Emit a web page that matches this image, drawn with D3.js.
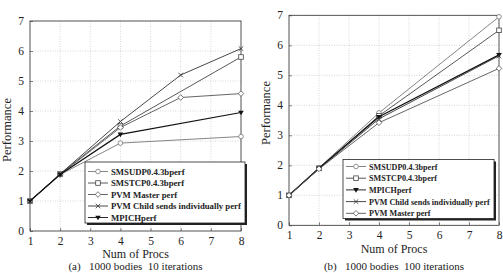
<!DOCTYPE html>
<html>
<head>
<meta charset="utf-8">
<script src="https://cdn.jsdelivr.net/npm/d3@7"></script>
<style>
  body { margin: 0; background: #fff; }
</style>
</head>
<body>
<div id="chart"></div>
<script>
const W = 503, H = 273;
const FONT = "Liberation Serif";

// data
const procsFour = [1, 2, 4, 8];
const procsFive = [1, 2, 4, 6, 8];
const xTicks = [1, 2, 3, 4, 5, 6, 7, 8];
const yTicks = [0, 1, 2, 3, 4, 5, 6, 7];

const namesA = ["SMSUDP0.4.3bperf", "SMSTCP0.4.3bperf", "PVM Master perf", "PVM Child sends individually perf", "MPICHperf"];
const smsUdpA = [1, 1.88, 2.93, 3.15];
const smsTcpA = [1, 1.9, 3.5, 5.8];
const pvmMasterA = [1, 1.88, 3.45, 4.45, 4.58];
const pvmChildA = [1, 1.9, 3.65, 5.2, 6.08];
const mpichA = [1, 1.88, 3.22, 3.95];

const namesB = ["SMSUDP0.4.3bperf", "SMSTCP0.4.3bperf", "MPICHperf", "PVM Child sends individually perf", "PVM Master perf"];
const smsUdpB = [1, 1.92, 3.75, 6.95];
const smsTcpB = [1, 1.9, 3.65, 6.5];
const mpichB = [1, 1.9, 3.62, 5.68];
const pvmChildB = [1, 1.88, 3.55, 5.65];
const pvmMasterB = [1, 1.88, 3.42, 5.23];

const styles = {
  "SMSUDP0.4.3bperf": { color: "#777", marker: "circle" },
  "SMSTCP0.4.3bperf": { color: "#444", marker: "square" },
  "PVM Master perf": { color: "#555", marker: "diamond" },
  "PVM Child sends individually perf": { color: "#333", marker: "cross" },
  "MPICHperf": { color: "#111", marker: "tri" }
};

const panels = [
  {
    left: 30, right: 241, top: 21, bottom: 231,
    series: [
      { name: namesA[0], x: procsFour, y: smsUdpA },
      { name: namesA[1], x: procsFour, y: smsTcpA },
      { name: namesA[2], x: procsFive, y: pvmMasterA },
      { name: namesA[3], x: procsFive, y: pvmChildA },
      { name: namesA[4], x: procsFour, y: mpichA }
    ],
    legend: { x: 85, y: 162, w: 160, h: 61, rowStart: 171.5, rowGap: 11.5, textW: 130 },
    ylabelX: 11, ylabelY: 130,
    xlabelY: 257.5, caption: "(a)   1000 bodies  10 iterations", captionY: 270
  },
  {
    left: 289, right: 499, top: 15.3, bottom: 225.3,
    series: [
      { name: namesB[0], x: procsFour, y: smsUdpB },
      { name: namesB[1], x: procsFour, y: smsTcpB },
      { name: namesB[2], x: procsFour, y: mpichB },
      { name: namesB[3], x: procsFour, y: pvmChildB },
      { name: namesB[4], x: procsFour, y: pvmMasterB }
    ],
    legend: { x: 343, y: 159.5, w: 151, h: 59, rowStart: 166.5, rowGap: 11.7, textW: 121 },
    ylabelX: 270, ylabelY: 113,
    xlabelY: 253, caption: "(b)   1000 bodies  100 iterations", captionY: 270
  }
];

const svg = d3.select("#chart").append("svg")
  .attr("width", W)
  .attr("height", H);

function drawMarker(g, type, cx, cy, color) {
  const r = 2.3;
  if (type === "circle") {
    g.append("circle").attr("cx", cx).attr("cy", cy).attr("r", r)
      .attr("fill", "#fff").attr("stroke", color).attr("stroke-width", 0.8);
  } else if (type === "square") {
    g.append("rect").attr("x", cx - r).attr("y", cy - r).attr("width", 2 * r).attr("height", 2 * r)
      .attr("fill", "#fff").attr("stroke", color).attr("stroke-width", 0.8);
  } else if (type === "diamond") {
    g.append("path").attr("d", `M${cx},${cy - r - 0.5}L${cx + r + 0.5},${cy}L${cx},${cy + r + 0.5}L${cx - r - 0.5},${cy}Z`)
      .attr("fill", "#fff").attr("stroke", color).attr("stroke-width", 0.8);
  } else if (type === "cross") {
    g.append("path").attr("d", `M${cx - r},${cy - r}L${cx + r},${cy + r}M${cx - r},${cy + r}L${cx + r},${cy - r}`)
      .attr("stroke", color).attr("stroke-width", 0.8);
  } else {
    g.append("path").attr("d", `M${cx - r - 0.5},${cy - r + 0.5}L${cx + r + 0.5},${cy - r + 0.5}L${cx},${cy + r + 0.5}Z`)
      .attr("fill", color);
  }
}

panels.forEach(p => {
  const x = d3.scaleLinear().domain([1, 8]).range([p.left, p.right]);
  const y = d3.scaleLinear().domain([0, 7]).range([p.bottom, p.top]);
  const g = svg.append("g");

  // dotted grid
  g.selectAll(".gx").data(xTicks).enter().append("line")
    .attr("x1", d => x(d)).attr("x2", d => x(d))
    .attr("y1", p.top).attr("y2", p.bottom)
    .attr("stroke", "#bbb").attr("stroke-width", 0.6).attr("stroke-dasharray", "1,1.5");
  g.selectAll(".gy").data(yTicks).enter().append("line")
    .attr("x1", p.left).attr("x2", p.right)
    .attr("y1", d => y(d)).attr("y2", d => y(d))
    .attr("stroke", "#bbb").attr("stroke-width", 0.6).attr("stroke-dasharray", "1,1.5");

  // axes with ticks inside
  const ax = g.append("g").attr("transform", `translate(0,${p.bottom})`)
    .call(d3.axisBottom(x).tickValues(xTicks).tickSize(-3).tickPadding(6).tickFormat(d3.format("d")));
  const ay = g.append("g").attr("transform", `translate(${p.left},0)`)
    .call(d3.axisLeft(y).tickValues(yTicks).tickSize(-3).tickPadding(6).tickFormat(d3.format("d")));
  [ax, ay].forEach(a => {
    a.attr("font-family", FONT).attr("font-size", 11.5);
    a.select(".domain").remove();
    a.selectAll("line").attr("stroke", "#333").attr("stroke-width", 0.6);
    a.selectAll("text").attr("fill", "#222").attr("font-family", FONT);
  });

  g.append("rect")
    .attr("x", p.left).attr("y", p.top)
    .attr("width", p.right - p.left).attr("height", p.bottom - p.top)
    .attr("fill", "none").attr("stroke", "#333").attr("stroke-width", 0.8);

  const line = d3.line().x(d => x(d[0])).y(d => y(d[1]));
  p.series.forEach(s => {
    const st = styles[s.name];
    const pts = s.x.map((v, i) => [v, s.y[i]]);
    g.append("path").datum(pts)
      .attr("d", line)
      .attr("fill", "none")
      .attr("stroke", st.color)
      .attr("stroke-width", s.name === "MPICHperf" ? 1.2 : 0.9);
    pts.forEach(d => drawMarker(g, st.marker, x(d[0]), y(d[1]), st.color));
  });

  // legend with shadow
  const L = p.legend;
  g.append("rect").attr("x", L.x + 2).attr("y", L.y + 2).attr("width", L.w).attr("height", L.h).attr("fill", "#222");
  g.append("rect").attr("x", L.x).attr("y", L.y).attr("width", L.w).attr("height", L.h)
    .attr("fill", "#fff").attr("stroke", "#222").attr("stroke-width", 0.8);

  // fit the legend font to the longest label width seen in the picture
  const probe = g.append("text").attr("font-family", FONT).attr("font-size", 10).attr("font-weight", "bold")
    .text(d3.greatest(p.series, s => s.name.length).name);
  const fs = 10 * L.textW / probe.node().getComputedTextLength();
  probe.remove();

  p.series.forEach((s, i) => {
    const st = styles[s.name];
    const ry = L.rowStart + i * L.rowGap;
    g.append("line").attr("x1", L.x + 3).attr("x2", L.x + 23).attr("y1", ry).attr("y2", ry)
      .attr("stroke", st.color).attr("stroke-width", 0.9);
    drawMarker(g, st.marker, L.x + 13, ry, st.color);
    g.append("text").attr("x", L.x + 26).attr("y", ry + 3)
      .attr("font-family", FONT).attr("font-size", fs).attr("font-weight", "bold")
      .attr("fill", "#222").text(s.name);
  });

  // labels
  const cx = (p.left + p.right) / 2;
  g.append("text").attr("x", cx).attr("y", p.xlabelY).attr("text-anchor", "middle")
    .attr("font-family", FONT).attr("font-size", 12).attr("fill", "#222").text("Num of Procs");
  g.append("text").attr("x", cx).attr("y", p.captionY).attr("text-anchor", "middle")
    .attr("font-family", FONT).attr("font-size", 11).attr("fill", "#222")
    .style("white-space", "pre").text(p.caption);
  g.append("text")
    .attr("transform", `translate(${p.ylabelX},${p.ylabelY}) rotate(-90)`)
    .attr("text-anchor", "middle")
    .attr("font-family", FONT).attr("font-size", 12.5).attr("fill", "#222").text("Performance");
});
</script>
</body>
</html>
